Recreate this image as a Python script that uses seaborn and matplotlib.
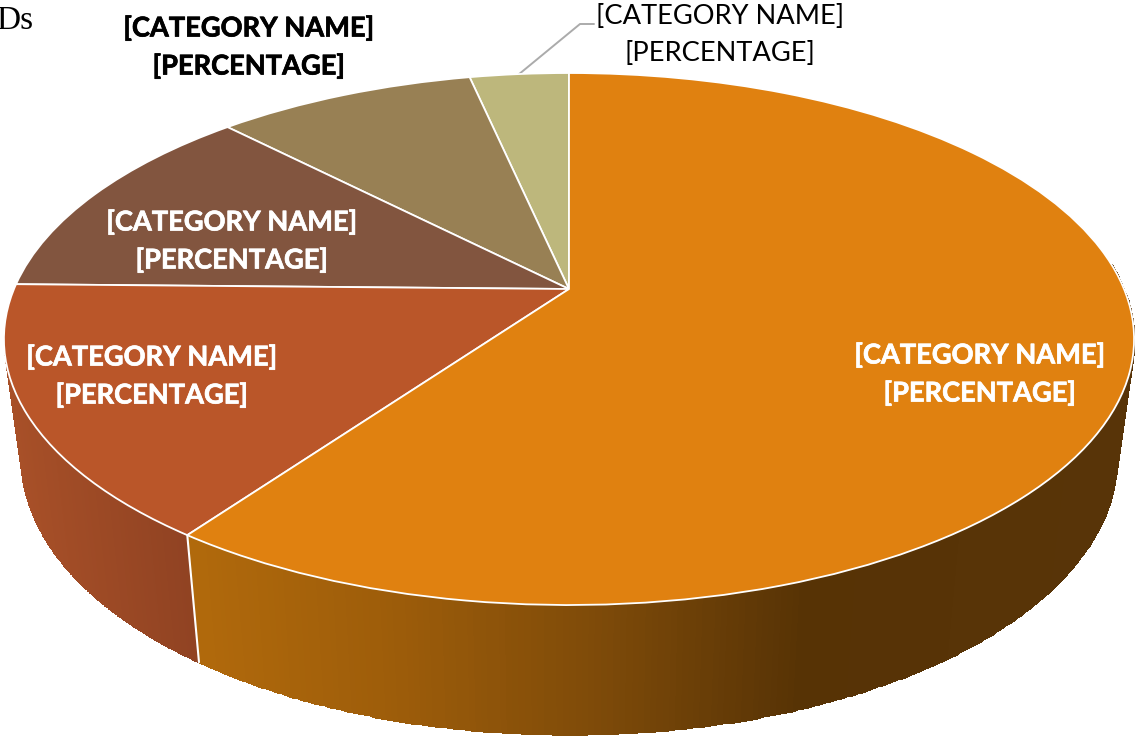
import numpy as np
import matplotlib
matplotlib.use("Agg")
import matplotlib.pyplot as plt
import matplotlib.patheffects as pe
from matplotlib.colors import LinearSegmentedColormap
from matplotlib.transforms import Transform
import seaborn as sns

# shares, counter-clockwise from 12 o'clock
categories = ["d", "c", "b", "a", "main"]
shares = [3.4, 8.9, 12.4, 15.4, 59.9]
top_colors = ["#BDB77C", "#988054", "#82553F", "#BA5629", "#E08110"]
label_text = "[CATEGORY NAME]\n[PERCENTAGE]"

# perspective of the disc, in pixels
CX, CY = 569, 289
A, B, K = 256.6, 555, 0.188
BASE_A, BASE_B, BASE_D = 266, 538, 118


class Persp(Transform):
    input_dims = output_dims = 2
    is_separable = False
    has_inverse = False

    def __init__(self, a=A, b=B, drop=0.0):
        super().__init__()
        self.a = a
        self.b = b
        self.drop = drop

    def transform_non_affine(self, values):
        values = np.asarray(values)
        w = 1 + K * values[:, 1]
        x = CX + self.b * values[:, 0] / w
        y = CY + self.drop - self.a * values[:, 1] / w
        return np.column_stack([x, y])


sns.set_theme(style="white")
plt.rcParams["font.family"] = ["Lato", "DejaVu Sans"]

fig = plt.figure(figsize=(11.35, 7.36), dpi=100)
ax = fig.add_axes([0, 0, 1, 1])
wedges, _ = ax.pie(shares, colors=top_colors, startangle=90, counterclock=True,
                   wedgeprops={"edgecolor": "white", "linewidth": 1.3, "zorder": 5})
ax.set_aspect("auto")
ax.set_xlim(0, 1135)
ax.set_ylim(736, 0)

top = Persp()
base = Persp(BASE_A, BASE_B, BASE_D)
for w in wedges:
    w.set_transform(top + ax.transData)

# gradients of the side wall, by pixel x
side_maps = {
    "main": LinearSegmentedColormap.from_list("main", [
        (0.0, "#B0690C"), (0.22, "#9C5C0A"), (0.44, "#7D4A09"),
        (0.66, "#573305"), (1.0, "#583408")]),
    "a": LinearSegmentedColormap.from_list("a", ["#A85028", "#8F4222"]),
}
side_range = {"main": (197, 1120), "a": (7, 197)}

for name, w in zip(categories, wedges):
    if name not in side_maps:
        continue
    t = np.radians(np.linspace(w.theta1, w.theta2, 400))
    t = t[np.sin(t) < 0.1]
    rim = np.column_stack([np.cos(t), np.sin(t)])
    upper = top.transform(rim)
    lower = base.transform(rim)
    X = np.vstack([upper[:, 0], lower[:, 0]])
    Y = np.vstack([upper[:, 1], lower[:, 1]])
    C = ((X[0, 1:] + X[0, :-1]) / 2)[None, :]
    ax.pcolormesh(X, Y, C, cmap=side_maps[name], vmin=side_range[name][0],
                  vmax=side_range[name][1], shading="flat", edgecolors="face",
                  linewidth=0.4, zorder=2)

# seam between the two visible walls
seam = np.radians(wedges[3].theta2)
seam_pt = np.array([[np.cos(seam), np.sin(seam)]])
p, q = top.transform(seam_pt)[0], base.transform(seam_pt)[0]
ax.plot([p[0], q[0]], [p[1], q[1]], color="white", lw=1.5, zorder=3)

# leader line of the smallest slice
ax.plot([518, 580, 594], [75, 24, 24], color="#ABABAB", lw=1.4, zorder=4)

fs = 19.6
ls = 1.62
label_style = {"fontsize": fs, "ha": "center", "va": "center", "linespacing": ls, "zorder": 6}
for x, y, col in [(232, 241, "white"), (152, 376, "white"), (980, 374, "white"), (249, 47, "black")]:
    ax.text(x, y, label_text, color=col, weight="bold",
            path_effects=[pe.withStroke(linewidth=0.5, foreground=col)], **label_style)
ax.text(720, 35, label_text, color="black", **label_style)
ax.text(33, 29, "Ds", color="black", family="Liberation Serif", fontsize=24, ha="right", va="baseline", zorder=6)

fig.savefig("out.png", dpi=100)
